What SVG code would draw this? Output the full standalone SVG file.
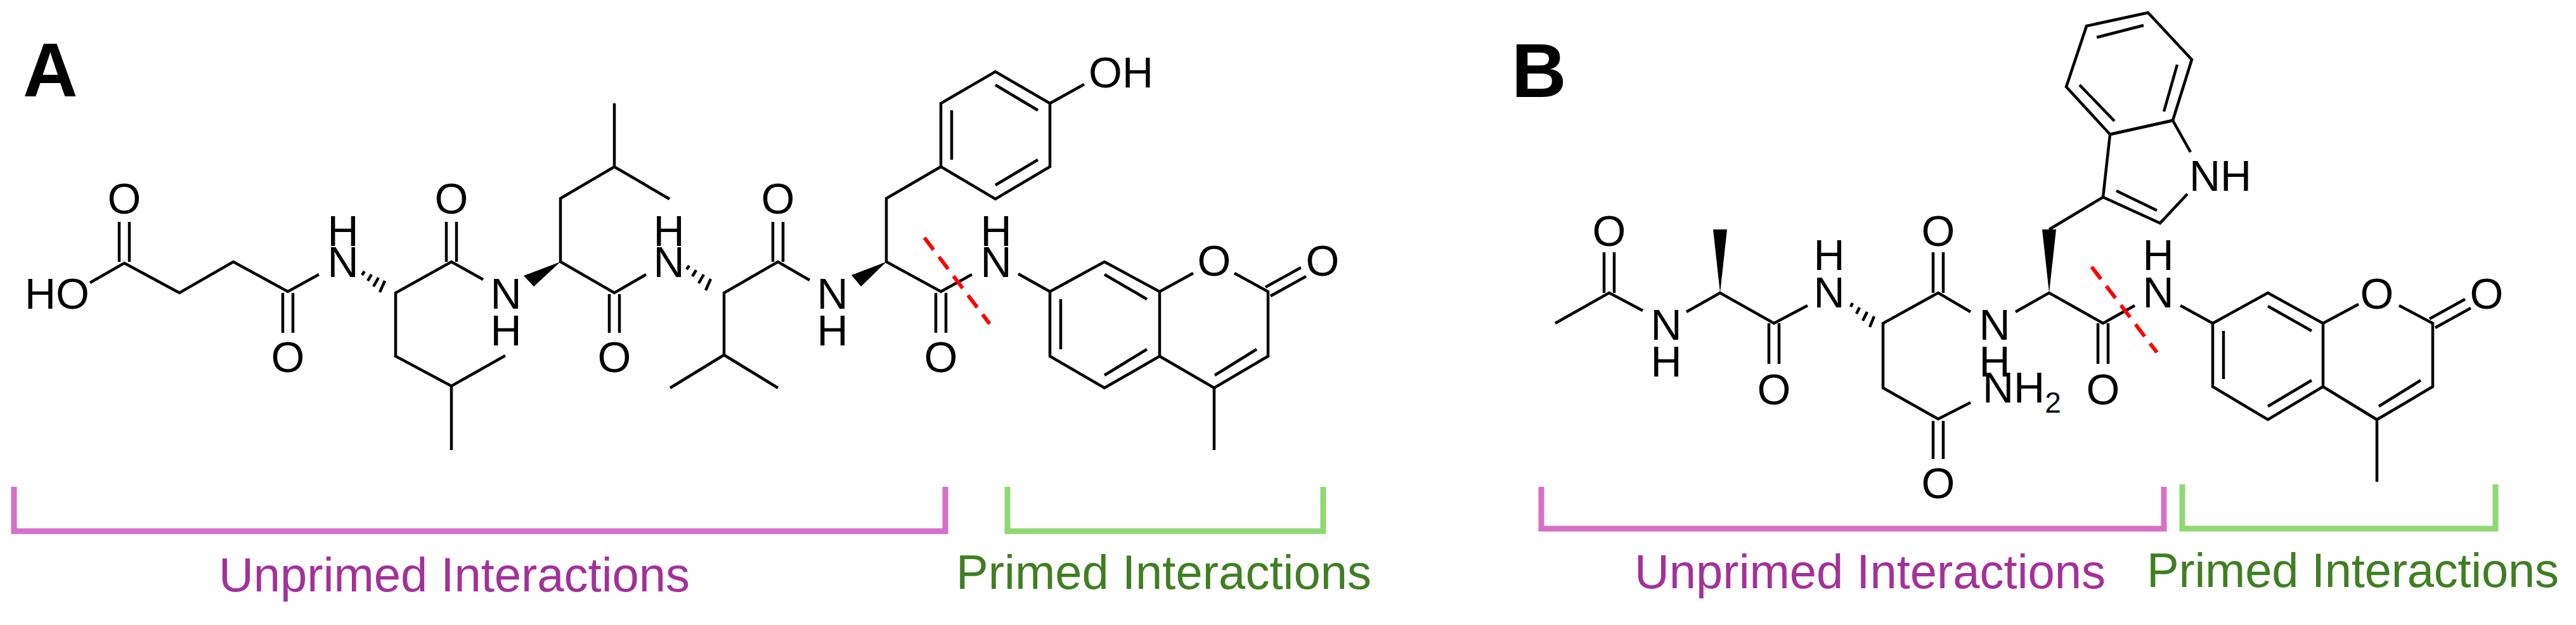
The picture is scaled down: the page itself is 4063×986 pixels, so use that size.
<svg xmlns="http://www.w3.org/2000/svg" width="4063" height="986" viewBox="0 0 4063 986">
<style>
.b{fill:none;stroke:#000;stroke-width:4.5;stroke-linejoin:miter;stroke-linecap:butt}
.t{font-family:"Liberation Sans",Arial,sans-serif;font-size:68px;fill:#000;text-anchor:middle}
.ts{font-family:"Liberation Sans",Arial,sans-serif;font-size:68px;fill:#000}
.lab{font-family:"Liberation Sans",Arial,sans-serif;font-size:120px;font-weight:bold;fill:#000}
.cut{fill:none;stroke:#ff0000;stroke-width:6;stroke-dasharray:24 14}
.bp{fill:none;stroke:#d670c8;stroke-width:9}
.bg{fill:none;stroke:#8fd974;stroke-width:9}
.tp{font-family:"Liberation Sans",Arial,sans-serif;font-size:76px;fill:#a3319a}
.tg{font-family:"Liberation Sans",Arial,sans-serif;font-size:76px;fill:#3f7f22}
</style>
<rect width="4063" height="986" fill="#fff"/>
<g id="panelA">
<text class="lab" x="36" y="152">A</text>
<g id="connectorsA">
<polyline class="b" points="142,446 196,415 283,462 368,413 454,460 503,433"/>
<path class="b" d="M188,350V413M204,350V413M446,462V525M462,462V525"/>
<path class="b" d="M575,428l-4,6M586,433l-6,10M597,438l-8,14M607,443l-8,18"/>
<polyline class="b" points="797,561 712,609 624,562 624,462 712,413 762,441"/>
<path class="b" d="M712,609V710M704,350V413M720,350V413"/>
<polygon points="884,413 826,435 842,452" fill="#000"/>
<polyline class="b" points="1056,314 969,263 884,313 884,413 969,462 1019,433"/>
<path class="b" d="M969,263V163M961,464V525M977,464V525"/>
<path class="b" d="M1087,419l-4,6M1098,426l-6,10M1110,433l-8,14M1121,440l-8,18"/>
<polyline class="b" points="1057,612 1142,560 1227,612"/>
<polyline class="b" points="1142,560 1142,462 1227,413 1277,442"/>
<path class="b" d="M1219,350V413M1235,350V413"/>
<polygon points="1398,413 1343,434 1358,452" fill="#000"/>
<polyline class="b" points="1533,433 1484,460 1398,413 1398,313 1484,263"/>
<path class="b" d="M1476,462V525M1492,462V525"/>
<polygon class="b" points="1484,263 1484,163 1570,113 1656,163 1656,263 1570,314"/>
<path class="b" d="M1501,174V252M1570,134L1637,174M1570,292L1637,252M1656,163L1710,133"/>
<polyline class="b" points="1606,432 1656,460"/>
<polygon class="b" points="1656,460 1742,413 1829,460 1829,562 1742,612 1656,562"/>
<path class="b" d="M1742,433L1809,472M1673,472V551M1742,592L1809,551"/>
<polyline class="b" points="1829,460 1882,431"/>
<polyline class="b" points="1947,431 2000,460 2000,562 1915,612 1829,562"/>
<path class="b" d="M1916,592L1982,551M1915,612V710M1996,453L2052,422M2004,467L2060,436"/>
<path class="cut" d="M1458,375L1561,511"/>
</g>
<g id="atomsA">
<text class="ts" x="39" y="487">HO</text>
<text class="t" x="196" y="337">O</text>
<text class="t" x="454" y="587">O</text>
<text class="t" x="541" y="437">N</text><text class="t" x="541" y="388">H</text>
<text class="t" x="712" y="337">O</text>
<text class="t" x="798" y="487">N</text><text class="t" x="798" y="545">H</text>
<text class="t" x="969" y="587">O</text>
<text class="t" x="1055" y="437">N</text><text class="t" x="1055" y="388">H</text>
<text class="t" x="1227" y="337">O</text>
<text class="t" x="1313" y="487">N</text><text class="t" x="1313" y="545">H</text>
<text class="t" x="1484" y="587">O</text>
<text class="t" x="1571" y="437">N</text><text class="t" x="1571" y="388">H</text>
<text class="ts" x="1717" y="138">OH</text>
<text class="t" x="1915" y="435">O</text>
<text class="t" x="2086" y="435">O</text>
</g>
</g>
<g id="panelB">
<text class="lab" x="2384" y="153">B</text>
<g id="connectorsB">
<polyline class="b" points="2453,510 2538,462 2591,490"/>
<path class="b" d="M2530,398V462M2546,398V462"/>
<polyline class="b" points="2660,492 2713,462 2798,510 2851,482"/>
<polygon points="2713,462 2702,362 2724,362" fill="#000"/>
<path class="b" d="M2790,510V574M2806,510V574"/>
<path class="b" d="M2922,478l-3,6M2933,485l-5,10M2945,492l-7,14M2956,499l-7,17"/>
<polyline class="b" points="3108,635 3057,661 2970,612 2970,510 3057,462 3108,492"/>
<path class="b" d="M3049,664V724M3065,664V724M3049,398V462M3065,398V462"/>
<polyline class="b" points="3179,492 3232,462 3317,510 3367,482"/>
<path class="b" d="M3309,510V574M3325,510V574"/>
<polygon points="3232,462 3221,362 3243,362" fill="#000"/>
<polyline class="b" points="3232,362 3317,311 3407,352 3450,306"/>
<polyline class="b" points="3455,240 3427,190 3328,212 3317,311"/>
<polygon class="b" points="3328,212 3259,137 3291,41 3388,20 3457,94 3427,190"/>
<path class="b" d="M3280,134L3335,191M3307,59L3381,40M3434,102L3413,176M3338,301L3402,332"/>
<polyline class="b" points="3439,482 3490,510"/>
<polygon class="b" points="3490,510 3577,462 3664,510 3664,610 3577,662 3490,610"/>
<path class="b" d="M3577,483L3646,522M3507,522V598M3577,641L3646,600"/>
<polyline class="b" points="3664,510 3720,480"/>
<polyline class="b" points="3784,482 3837,510 3837,610 3749,662 3664,610"/>
<path class="b" d="M3752,641L3818,600M3749,662V760M3832,503L3888,472M3841,517L3897,486"/>
<path class="cut" d="M3299,421L3402,556"/>
</g>
<g id="atomsB">
<text class="t" x="2538" y="388">O</text>
<text class="t" x="2628" y="536">N</text><text class="t" x="2628" y="594">H</text>
<text class="t" x="2798" y="638">O</text>
<text class="t" x="2885" y="485">N</text><text class="t" x="2885" y="426">H</text>
<text class="t" x="3057" y="388">O</text>
<text class="t" x="3146" y="536">N</text><text class="t" x="3146" y="594">H</text>
<text class="ts" x="3127" y="635">NH<tspan font-size="46" dy="16">2</tspan></text>
<text class="t" x="3057" y="786">O</text>
<text class="ts" x="3453" y="301">NH</text>
<text class="t" x="3317" y="638">O</text>
<text class="t" x="3404" y="485">N</text><text class="t" x="3404" y="426">H</text>
<text class="t" x="3749" y="487">O</text>
<text class="t" x="3922" y="487">O</text>
</g>
</g>
<g id="brackets">
<polyline class="bp" points="22,768 22,838 1491,838 1491,768"/>
<polyline class="bg" points="1589,768 1589,838 2087,838 2087,768"/>
<polyline class="bp" points="2431,768 2431,834 3413,834 3413,768"/>
<polyline class="bg" points="3442,764 3442,834 3936,834 3936,764"/>
<text class="tp" x="345" y="933" textLength="743">Unprimed Interactions</text>
<text class="tg" x="1508" y="929" textLength="655">Primed Interactions</text>
<text class="tp" x="2578" y="928" textLength="743">Unprimed Interactions</text>
<text class="tg" x="3386" y="926" textLength="650">Primed Interactions</text>
</g>
</svg>
